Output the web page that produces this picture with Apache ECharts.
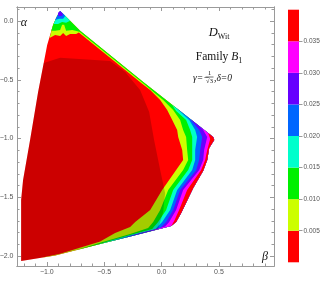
<!DOCTYPE html>
<html>
<head>
<meta charset="utf-8">
<script src="https://cdn.jsdelivr.net/npm/echarts/dist/echarts.min.js"></script>
<style>html,body{margin:0;padding:0;background:#fff}#c{width:327px;height:284px}</style>
</head>
<body>
<div id="c"></div>
<script>
// ---- data (beta = x, alpha = y) ----
const xMajor = [-1.0, -0.5, 0.0, 0.5];
const xMinor = [-1.2,-1.1,-0.9,-0.8,-0.7,-0.6,-0.4,-0.3,-0.2,-0.1,0.1,0.2,0.3,0.4,0.6,0.7,0.8,0.9];
const yMajor = [-2.0, -1.5, -1.0, -0.5, 0.0];
const yMinor = [-1.9,-1.8,-1.7,-1.6,-1.4,-1.3,-1.2,-1.1,-0.9,-0.8,-0.7,-0.6,-0.4,-0.3,-0.2,-0.1,0.1];
const levels = [0.005, 0.010, 0.015, 0.020, 0.025, 0.030, 0.035];
const colorbarValues = [0.005,0.005,0.005,0.005,0.005,0.005,0.005,0.005];

// domain outline (value >= 0)
const outline = [[-0.884,0.087],[-0.832,0.036],[-0.710,-0.083],[-0.160,-0.518],[0.450,-0.986],[0.459,-1.012],[0.415,-1.080],[0.398,-1.182],[0.363,-1.275],[0.276,-1.421],[0.171,-1.634],[0.127,-1.710],[0.084,-1.744],[-0.274,-1.834],[-0.535,-1.897],[-0.928,-1.996],[-1.224,-2.043],[-1.224,-1.523],[-1.207,-1.353],[-1.146,-1.012],[-1.076,-0.603],[-0.997,-0.203],[-0.945,-0.032],[-0.910,0.044]];
// value >= 0.005
const band005 = [[-0.976,-0.143],[-0.945,-0.032],[-0.910,0.044],[-0.884,0.087],[-0.832,0.036],[-0.710,-0.083],[-0.160,-0.518],[0.450,-0.986],[0.459,-1.012],[0.415,-1.080],[0.398,-1.182],[0.363,-1.275],[0.276,-1.421],[0.171,-1.634],[0.127,-1.710],[0.084,-1.744],[-0.274,-1.834],[-0.535,-1.897],[-0.928,-1.996],[-1.059,-2.016],
 [-0.884,-1.981],[-0.535,-1.877],[-0.405,-1.804],[-0.274,-1.752],[-0.230,-1.710],[-0.099,-1.608],[0.005,-1.438],[0.127,-1.267],[0.188,-1.182],[0.180,-1.097],[0.145,-0.986],[0.136,-0.927],[0.093,-0.842],[0.049,-0.756],[-0.012,-0.671],[-0.099,-0.586],[-0.172,-0.532],[-0.721,-0.097],[-0.745,-0.109],[-0.797,-0.109],[-0.832,-0.126],[-0.858,-0.101],[-0.884,-0.126],[-0.928,-0.118]];
// value >= 0.010
const band010 = [[-0.961,-0.083],[-0.945,-0.032],[-0.910,0.044],[-0.884,0.087],[-0.832,0.036],[-0.710,-0.083],[-0.160,-0.518],[0.450,-0.986],[0.459,-1.012],[0.415,-1.080],[0.398,-1.182],[0.363,-1.275],[0.276,-1.421],[0.171,-1.634],[0.127,-1.710],[0.084,-1.744],[-0.274,-1.834],[-0.535,-1.897],[-0.753,-1.952],
 [-0.535,-1.887],[-0.274,-1.812],[-0.117,-1.761],[-0.073,-1.710],[-0.012,-1.608],[0.058,-1.438],[0.188,-1.267],[0.232,-1.182],[0.223,-1.097],[0.214,-0.986],[0.188,-0.927],[0.162,-0.842],[0.101,-0.756],[0.014,-0.671],[-0.091,-0.586],[-0.166,-0.525],[-0.715,-0.090],[-0.779,-0.075],[-0.832,-0.083],[-0.849,-0.032],[-0.867,-0.032],[-0.884,-0.075],[-0.928,-0.083]];
// value >= 0.015
const band015Top = [[-0.941,-0.024],[-0.910,0.044],[-0.884,0.087],[-0.832,0.036],[-0.797,0.002],[-0.832,-0.015],[-0.867,-0.007],[-0.902,-0.024]];
const band015Right = [[0.093,-0.714],[0.450,-0.986],[0.459,-1.012],[0.415,-1.080],[0.398,-1.182],[0.363,-1.275],[0.276,-1.421],[0.171,-1.634],[0.127,-1.710],[0.084,-1.744],[-0.274,-1.834],[-0.579,-1.908],
 [-0.448,-1.870],[-0.274,-1.821],[-0.082,-1.769],[-0.030,-1.710],[0.040,-1.608],[0.101,-1.438],[0.232,-1.267],[0.267,-1.182],[0.267,-1.097],[0.267,-0.986],[0.249,-0.927],[0.214,-0.842],[0.127,-0.765]];
// value >= 0.020
const band020Top = [[-0.928,0.010],[-0.910,0.044],[-0.884,0.087],[-0.849,0.053],[-0.840,0.044],[-0.858,0.019],[-0.893,0.019]];
const band020Right = [[0.119,-0.731],[0.450,-0.986],[0.459,-1.012],[0.415,-1.080],[0.398,-1.182],[0.363,-1.275],[0.276,-1.421],[0.171,-1.634],[0.127,-1.710],[0.084,-1.744],[-0.274,-1.834],[-0.448,-1.877],
 [-0.274,-1.825],[-0.056,-1.774],[0.005,-1.710],[0.075,-1.608],[0.136,-1.438],[0.267,-1.267],[0.293,-1.182],[0.293,-1.097],[0.310,-0.986],[0.293,-0.927],[0.241,-0.842]];
// value >= 0.025
const band025Top = [[-0.902,0.070],[-0.884,0.087],[-0.858,0.061],[-0.867,0.044],[-0.902,0.044]];
const band025Right = [[0.249,-0.832],[0.450,-0.986],[0.459,-1.012],[0.415,-1.080],[0.398,-1.182],[0.363,-1.275],[0.276,-1.421],[0.171,-1.634],[0.127,-1.710],[0.084,-1.744],[-0.317,-1.845],
 [-0.187,-1.803],[-0.012,-1.761],[0.040,-1.710],[0.101,-1.608],[0.162,-1.438],[0.302,-1.267],[0.328,-1.182],[0.337,-1.097],[0.354,-0.986],[0.328,-0.927]];
// value >= 0.030
const band030Right = [[0.337,-0.900],[0.450,-0.986],[0.459,-1.012],[0.415,-1.080],[0.398,-1.182],[0.363,-1.275],[0.276,-1.421],[0.171,-1.634],[0.127,-1.710],[0.084,-1.744],[-0.099,-1.789],
 [0.031,-1.749],[0.066,-1.710],[0.127,-1.608],[0.188,-1.438],[0.328,-1.267],[0.363,-1.182],[0.371,-1.097],[0.398,-0.986],[0.363,-0.927]];
// value >= 0.035
const band035Right = [[0.406,-0.953],[0.450,-0.986],[0.459,-1.012],[0.415,-1.080],[0.398,-1.182],[0.363,-1.275],[0.276,-1.421],[0.171,-1.634],[0.127,-1.710],[0.084,-1.744],
 [0.110,-1.702],[0.153,-1.608],[0.223,-1.438],[0.345,-1.267],[0.380,-1.182],[0.398,-1.097],[0.424,-1.003]];
// shaded inner region
const shadeRegion = [[-1.027,-0.356],[-0.884,-0.313],[-0.448,-0.339],[-0.317,-0.433],[-0.187,-0.586],[-0.108,-0.773],[-0.065,-1.012],[-0.012,-1.267],[0.031,-1.464],[0.014,-1.625],[-0.030,-1.772],[-0.274,-1.834],[-0.535,-1.897],[-0.928,-1.996],[-1.224,-2.043],[-1.224,-1.523],[-1.207,-1.353],[-1.146,-1.012],[-1.076,-0.603]];

// ---- styles ----
const bandColors = ['#ff0000','#ccff00','#00f000','#00ffcc','#0066ff','#6600ff','#ff00ff','#ff0000'];
const layers = [
  {pts: outline, color: bandColors[0]},
  {pts: band005, color: bandColors[1]},
  {pts: band010, color: bandColors[2]},
  {pts: band015Top, color: bandColors[3]},
  {pts: band015Right, color: bandColors[3]},
  {pts: band020Top, color: bandColors[4]},
  {pts: band020Right, color: bandColors[4]},
  {pts: band025Top, color: bandColors[5]},
  {pts: band025Right, color: bandColors[5]},
  {pts: band030Right, color: bandColors[6]},
  {pts: band035Right, color: bandColors[7]},
  {pts: shadeRegion, color: 'rgba(0,0,0,0.2)'}
];

const X_MIN = -1.26, X_MAX = 0.98, Y_MIN = -2.085, Y_MAX = 0.12;
const frameColor = '#9a9a9a';
const labelColor = '#555';
const fmt1 = v => (Math.abs(v) < 1e-9 ? '0.0' : v.toFixed(1).replace('-', '\u2212'));

function valAxis(kind, pos, mn, mx, ticks, len, labels) {
  return {
    type: 'value', gridIndex: 0, position: pos, min: mn, max: mx,
    axisLine: {show: true, onZero: false, lineStyle: {color: frameColor, width: 1}},
    axisTick: {show: true, inside: true, length: len, customValues: ticks, lineStyle: {color: frameColor, width: 1}},
    axisLabel: labels ? {show: true, customValues: ticks, formatter: fmt1, color: labelColor, fontSize: 7, fontFamily: 'Liberation Sans', margin: kind === 'x' ? 3 : 3.5} : {show: false},
    splitLine: {show: false}
  };
}

const chart = echarts.init(document.getElementById('c'), null, {renderer: 'canvas'});
const cbSeries = colorbarValues.map((v, i) => ({
  type: 'bar', xAxisIndex: 4, yAxisIndex: 4, stack: 'cb', barWidth: '100%', silent: true,
  data: [v], itemStyle: {color: bandColors[i]}
}));

const serif = 'Liberation Serif';
chart.setOption({
  animation: false,
  backgroundColor: '#fff',
  grid: [
    {left: 17, right: 53, top: 7, bottom: 18, containLabel: false, outerBoundsMode: 'none'},
    {left: 288, width: 11, top: 9.7, height: 252.6, containLabel: false, outerBoundsMode: 'none'}
  ],
  xAxis: [
    valAxis('x', 'bottom', X_MIN, X_MAX, xMajor, 4, true),
    valAxis('x', 'bottom', X_MIN, X_MAX, xMinor, 2.5, false),
    valAxis('x', 'top', X_MIN, X_MAX, xMajor, 4, false),
    valAxis('x', 'top', X_MIN, X_MAX, xMinor, 2.5, false),
    {type: 'category', gridIndex: 1, data: ['bar'], show: false, boundaryGap: true}
  ],
  yAxis: [
    valAxis('y', 'left', Y_MIN, Y_MAX, yMajor, 4, true),
    valAxis('y', 'left', Y_MIN, Y_MAX, yMinor, 2.5, false),
    valAxis('y', 'right', Y_MIN, Y_MAX, yMajor, 4, false),
    valAxis('y', 'right', Y_MIN, Y_MAX, yMinor, 2.5, false),
    {type: 'value', gridIndex: 1, position: 'right', min: 0, max: 0.04,
     axisLine: {show: false, onZero: false},
     axisTick: {show: true, inside: false, length: 3.5, customValues: levels, lineStyle: {color: frameColor}},
     axisLabel: {show: true, customValues: levels, formatter: v => v.toFixed(3), color: labelColor, fontSize: 6.5, fontFamily: 'Liberation Sans', margin: 4.5},
     splitLine: {show: false}}
  ],
  series: [
    {
      type: 'custom', xAxisIndex: 0, yAxisIndex: 0, silent: true,
      data: layers.map((l, i) => [i]),
      renderItem: function (params, api) {
        const layer = layers[params.dataIndex];
        const pts = layer.pts.map(p => api.coord(p));
        return {type: 'polygon', shape: {points: pts}, style: {fill: layer.color, stroke: null}};
      }
    }
  ].concat(cbSeries),
  graphic: [
    {type: 'text', x: 24, y: 23, silent: true,
     style: {text: '\u03B1', fontFamily: serif, fontStyle: 'italic', fontSize: 12, fill: '#111', align: 'center', verticalAlign: 'middle', textAlign: 'center', textVerticalAlign: 'middle'}},
    {type: 'text', x: 265, y: 257, silent: true,
     style: {text: '\u03B2', fontFamily: serif, fontStyle: 'italic', fontSize: 12, fill: '#111', align: 'center', verticalAlign: 'middle', textAlign: 'center', textVerticalAlign: 'middle'}},
    {type: 'text', x: 219, y: 33, silent: true,
     style: {text: '{d|D}{s|Wit}', align: 'center', verticalAlign: 'middle', textAlign: 'center', textVerticalAlign: 'middle', fill: '#111',
       rich: {d: {fontFamily: serif, fontStyle: 'italic', fontSize: 12.5, lineHeight: 16, verticalAlign: 'middle', fill: '#111'},
              s: {fontFamily: serif, fontSize: 8, lineHeight: 9, verticalAlign: 'bottom', fill: '#111'}}}},
    {type: 'text', x: 219, y: 57, silent: true,
     style: {text: '{n|Family }{b|B}{s|1}', align: 'center', verticalAlign: 'middle', textAlign: 'center', textVerticalAlign: 'middle', fill: '#111',
       rich: {n: {fontFamily: serif, fontSize: 11.5, lineHeight: 16, verticalAlign: 'middle', fill: '#111'},
              b: {fontFamily: serif, fontStyle: 'italic', fontSize: 11.5, lineHeight: 16, verticalAlign: 'middle', fill: '#111'},
              s: {fontFamily: serif, fontSize: 8, lineHeight: 9, verticalAlign: 'bottom', fill: '#111'}}}},
    {type: 'text', x: 193, y: 78, silent: true,
     style: {text: '\u03B3=\u2212', fontFamily: serif, fontStyle: 'italic', fontSize: 9.5, fill: '#111', align: 'left', verticalAlign: 'middle', textAlign: 'left', textVerticalAlign: 'middle'}},
    {type: 'text', x: 209.5, y: 73, silent: true,
     style: {text: '1', fontFamily: serif, fontSize: 6.5, fill: '#111', align: 'center', verticalAlign: 'middle', textAlign: 'center', textVerticalAlign: 'middle'}},
    {type: 'line', silent: true, shape: {x1: 205.5, y1: 77, x2: 213.5, y2: 77}, style: {stroke: '#111', lineWidth: 0.6}},
    {type: 'text', x: 209.5, y: 81.5, silent: true,
     style: {text: '\u221A3', fontFamily: serif, fontSize: 6.5, fill: '#111', align: 'center', verticalAlign: 'middle', textAlign: 'center', textVerticalAlign: 'middle'}},
    {type: 'text', x: 214, y: 78, silent: true,
     style: {text: ',\u03B4=0', fontFamily: serif, fontStyle: 'italic', fontSize: 9.5, fill: '#111', align: 'left', verticalAlign: 'middle', textAlign: 'left', textVerticalAlign: 'middle'}}
  ]
});
</script>
</body>
</html>
